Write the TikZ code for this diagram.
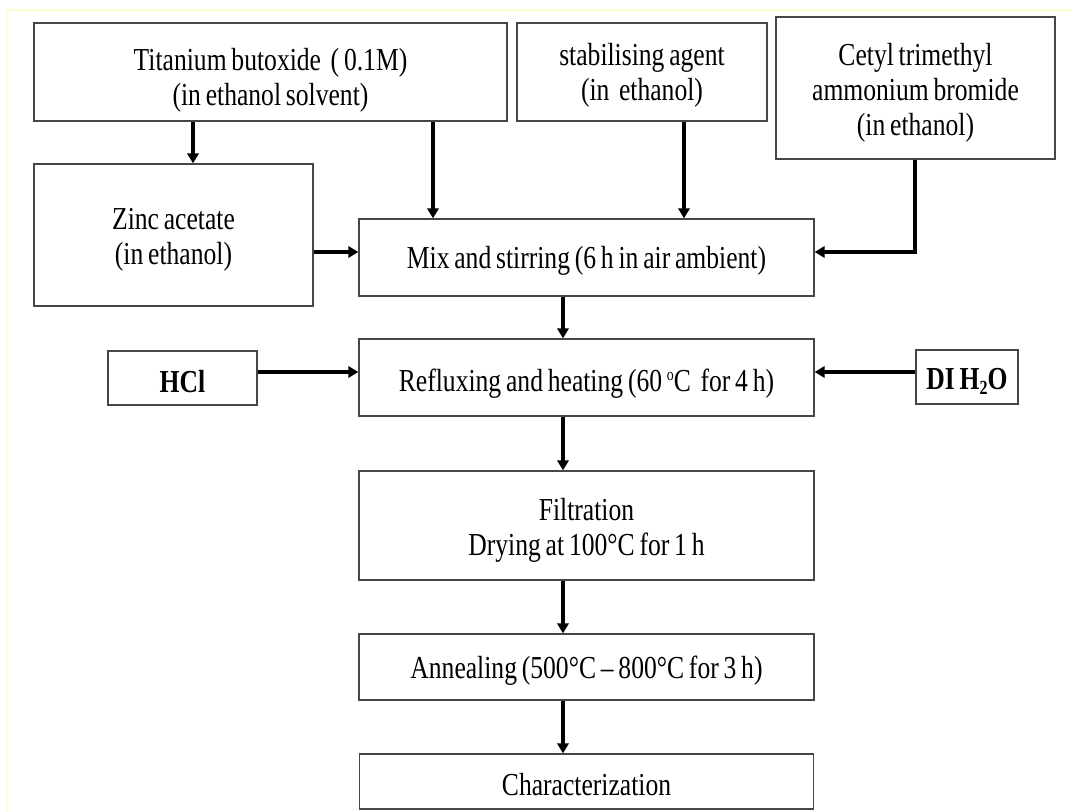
\documentclass[tikz,border=0pt]{standalone}
\usepackage{fontspec}
\setmainfont{Liberation Serif}[FakeStretch=0.8,WordSpace=0.75]
\usetikzlibrary{arrows.meta}
\definecolor{framey}{RGB}{255,255,205}
\definecolor{boxline}{RGB}{70,70,70}
\tikzset{
  box/.style={draw=boxline, line width=1pt, inner sep=0pt},
  txt/.style={inner sep=0pt, align=center, font=\fontsize{24pt}{26.25pt}\selectfont},
  boldtxt/.style={txt, font=\fontsize{24pt}{26.25pt}\selectfont\bfseries},
  arr/.style={line width=3.6pt, -{Triangle[width=8.5pt,length=7.5pt]}},
}
\begin{document}
\begin{tikzpicture}[x=0.75pt,y=-0.75pt]
\useasboundingbox (0,0) rectangle (1072,812);
\fill[white] (0,0) rectangle (1072,812);
\draw[framey, line width=1pt] (7,812) -- (7,10) -- (1072,10);

\node[box, minimum width=354.75pt, minimum height=73.5pt] (ti) at (270.5,72) {};
\node[txt] (ti-t) at ([yshift=-6pt]ti.center) {Titanium butoxide\ \ ( 0.1M)\\(in ethanol solvent)};
\node[box, minimum width=187.5pt, minimum height=73.5pt] (stab) at (642,72) {};
\node[txt] (stab-t) at ([yshift=-2.5pt]stab.center) {stabilising agent\\(in\ \ ethanol)};
\node[box, minimum width=209.25pt, minimum height=106.5pt] (cetyl) at (915.5,88) {};
\node[txt] (cetyl-t) at ([yshift=-3.5pt]cetyl.center) {Cetyl trimethyl\\ammonium bromide\\(in ethanol)};
\node[box, minimum width=209.25pt, minimum height=106.5pt] (zinc) at (173.5,235) {};
\node[txt] (zinc-t) at ([yshift=-3.5pt]zinc.center) {Zinc acetate\\(in ethanol)};
\node[box, minimum width=341.25pt, minimum height=57.75pt] (mix) at (586.5,257.5) {};
\node[txt] (mix-t) at ([yshift=-2.5pt]mix.center) {Mix and stirring (6 h in air ambient)};
\node[box, minimum width=111.75pt, minimum height=40.5pt] (hcl) at (182.5,378) {};
\node[boldtxt] (hcl-t) at ([yshift=-2.5pt]hcl.center) {HCl};
\node[box, minimum width=341.25pt, minimum height=57.75pt] (reflux) at (586.5,377.5) {};
\node[txt] (reflux-t) at ([yshift=-4.5pt]reflux.center) {Refluxing and heating (60 \raisebox{0.75ex}{\fontsize{13pt}{13pt}\selectfont o}C\ \ for 4 h)};
\node[box, minimum width=76.5pt, minimum height=40.5pt] (di) at (967,377) {};
\node[boldtxt] (di-t) at ([yshift=-3pt]di.center) {DI H\raisebox{-0.35ex}{\fontsize{15pt}{15pt}\selectfont 2}O};
\node[box, minimum width=341.25pt, minimum height=81.75pt] (filt) at (586.5,525.5) {};
\node[txt] (filt-t) at ([yshift=-3.5pt]filt.center) {Filtration\\Drying at 100°C for 1 h};
\node[box, minimum width=341.25pt, minimum height=49.5pt] (anneal) at (586.5,667) {};
\node[txt] (anneal-t) at ([yshift=-2.5pt]anneal.center) {Annealing (500°C – 800°C for 3 h)};
\node[box, minimum width=340.5pt, minimum height=41.25pt] (char) at (586.5,781.5) {};
\node[txt] (char-t) at ([yshift=-2.5pt]char.center) {Characterization};

\coordinate (xa) at (193,0);
\coordinate (xb) at (433,0);
\coordinate (xc) at (684,0);
\coordinate (xd) at (915,0);
\coordinate (xm) at (563,0);
\coordinate (ym) at (0,252);
\coordinate (yr) at (0,372);
\coordinate (bend) at (915,252);

\draw[arr] (ti.south -| xa) -- (zinc.north -| xa);
\draw[arr] (ti.south -| xb) -- (mix.north -| xb);
\draw[arr] (stab.south -| xc) -- (mix.north -| xc);
\draw[arr] (cetyl.south -| xd) -- (bend) -- (mix.east |- ym);
\draw[arr] (zinc.east |- ym) -- (mix.west |- ym);
\draw[arr] (mix.south -| xm) -- (reflux.north -| xm);
\draw[arr] (hcl.east |- yr) -- (reflux.west |- yr);
\draw[arr] (di.west |- yr) -- (reflux.east |- yr);
\draw[arr] (reflux.south -| xm) -- (filt.north -| xm);
\draw[arr] (filt.south -| xm) -- (anneal.north -| xm);
\draw[arr] (anneal.south -| xm) -- (char.north -| xm);
\end{tikzpicture}
\end{document}
